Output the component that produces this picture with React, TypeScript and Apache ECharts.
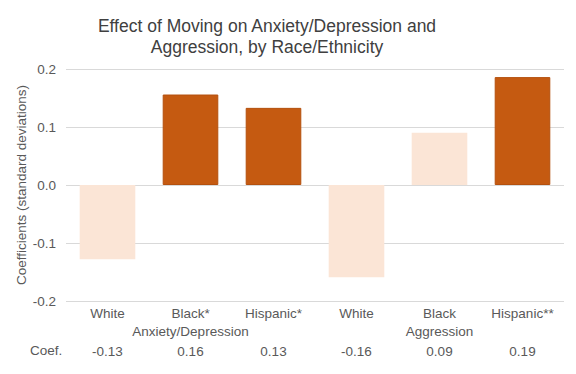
import React, { useEffect, useRef } from "react";
import * as echarts from "echarts";

const categories = ["White", "Black*", "Hispanic*", "White", "Black", "Hispanic**"];
const groupLabels = ["", "Anxiety/Depression", "", "", "Aggression", ""];
const coefficients = [-0.128, 0.156, 0.133, -0.159, 0.09, 0.186];
const coefLabels = ["-0.13", "0.16", "0.13", "-0.16", "0.09", "0.19"];
const significant = [false, true, true, false, false, true];
const yTicks = [-0.2, -0.1, 0.0, 0.1, 0.2];

const DARK = "#C55A11";
const LIGHT = "#FBE5D6";
const TEXT = "#595959";
const FONT = "'Liberation Sans', Arial, sans-serif";

export default function App() {
  const ref = useRef<HTMLDivElement>(null);
  useEffect(() => {
    document.body.style.margin = "0";
    if (!ref.current) return;
    const chart = echarts.init(ref.current, null, { renderer: "svg" });
    const hiddenAxis = {
      type: "category" as const,
      data: categories,
      position: "bottom" as const,
      axisLine: { show: false },
      axisTick: { show: false },
      splitLine: { show: false },
    };
    chart.setOption({
      animation: false,
      textStyle: { fontFamily: FONT },
      title: {
        text: "Effect of Moving on Anxiety/Depression and\nAggression, by Race/Ethnicity",
        left: 262,
        top: 10,
        textAlign: "center",
        textStyle: { fontFamily: FONT, fontSize: 17.5, fontWeight: "normal", color: "#404040", lineHeight: 21 },
      },
      grid: { left: 66, right: 12, top: 69, bottom: 73 },
      xAxis: [
        {
          ...hiddenAxis,
          axisLabel: { color: TEXT, fontSize: 13.5, margin: 5, interval: 0 },
        },
        {
          ...hiddenAxis,
          offset: 18,
          axisLabel: {
            color: TEXT,
            fontSize: 13.5,
            margin: 5,
            interval: 0,
            formatter: (_v: string, i: number) => groupLabels[i],
          },
        },
        {
          ...hiddenAxis,
          offset: 38,
          axisLabel: {
            color: TEXT,
            fontSize: 13.5,
            margin: 5,
            interval: 0,
            formatter: (_v: string, i: number) => coefLabels[i],
          },
        },
      ],
      yAxis: {
        type: "value",
        min: yTicks[0],
        max: yTicks[yTicks.length - 1],
        interval: 0.1,
        name: "Coefficients (standard deviations)",
        nameLocation: "middle",
        nameGap: 38,
        nameMoveOverlap: false,
        nameTextStyle: { color: TEXT, fontSize: 13.5, fontFamily: FONT },
        axisLine: { show: false },
        axisTick: { show: false },
        axisLabel: {
          color: TEXT,
          fontSize: 13.5,
          margin: 10,
          formatter: (v: number) => v.toFixed(1),
        },
        splitLine: { lineStyle: { color: "#D9D9D9", width: 1 } },
      },
      graphic: [
        {
          type: "text",
          left: 30,
          top: 343,
          style: { text: "Coef.", fill: TEXT, fontSize: 13.5, fontFamily: FONT },
        },
      ],
      series: [
        {
          type: "bar",
          xAxisIndex: 0,
          barWidth: "67%",
          data: coefficients.map((v, i) => ({
            value: v,
            itemStyle: {
              color: significant[i] ? DARK : LIGHT,
              borderColor: significant[i] ? "#B4500E" : LIGHT,
              borderWidth: significant[i] ? 1 : 0,
            },
          })),
        },
      ],
    });
    return () => chart.dispose();
  }, []);
  return <div ref={ref} style={{ width: 576, height: 374 }} />;
}
